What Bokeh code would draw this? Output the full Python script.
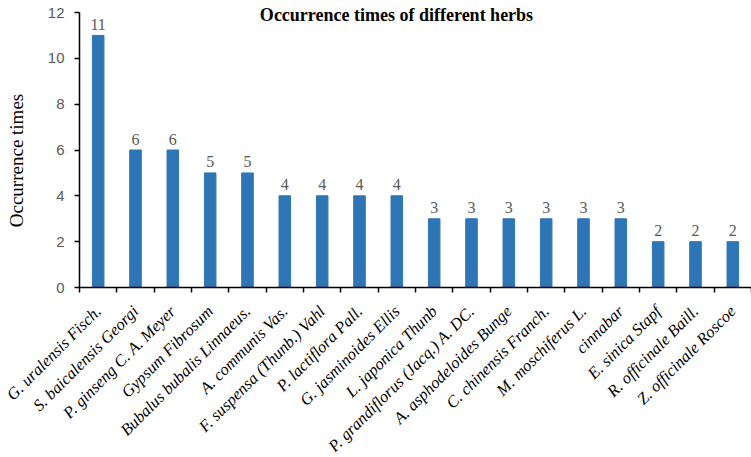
from bokeh.plotting import figure
from bokeh.models import Range1d, FixedTicker, ColumnDataSource, Label
from bokeh.core.properties import value
from bokeh.embed import file_html
from bokeh.resources import INLINE
import math

herbs = ["G. uralensis Fisch.", "S. baicalensis Georgi", "P. ginseng C. A. Meyer",
         "Gypsum Fibrosum", "Bubalus bubalis Linnaeus.", "A. communis Vas.",
         "F. suspensa (Thunb.) Vahl", "P. lactiflora Pall.", "G. jasminoides Ellis",
         "L. japonica Thunb", "P. grandiflorus (Jacq.) A. DC.", "A. asphodeloides Bunge",
         "C. chinensis Franch.", "M. moschiferus L.", "cinnabar", "E. sinica Stapf",
         "R. officinale Baill.", "Z. officinale Roscoe"]
counts = [11, 6, 6, 5, 5, 4, 4, 4, 4, 3, 3, 3, 3, 3, 3, 2, 2, 2]
y_ticks = [0, 2, 4, 6, 8, 10, 12]
y_max = 12

W, H = 751, 457
n = len(herbs)
xs = [i + 0.5 for i in range(n)]
src = ColumnDataSource(dict(x=xs, top=counts, lab=[str(c) for c in counts]))

# frame covers the whole canvas; axes are drawn at fixed locations
ax_left, ax_right, ax_top, ax_bottom = 79, 751, 12, 287   # pixel placement of the axes
xu = (ax_right - ax_left) / n
yu = (ax_bottom - ax_top) / y_max
x_range = Range1d(-ax_left / xu, n + (W - ax_right) / xu)
y_range = Range1d(-(H - ax_bottom) / yu, y_max + ax_top / yu)

p = figure(width=W, height=H, output_backend="svg", toolbar_location=None,
           x_range=x_range, y_range=y_range, min_border=0)
p.outline_line_color = None
p.xgrid.grid_line_color = None
p.ygrid.grid_line_color = None
p.background_fill_color = "white"

p.vbar(x="x", top="top", width=0.31, source=src, fill_color="#2E75B6", line_color="#2E75B6")
p.text(x="x", y="top", text="lab", source=src, text_align="center", text_baseline="alphabetic",
       y_offset=-11, text_font=value("Liberation Serif"), text_font_size="16px", text_color="#595959")

# x axis
p.xaxis.fixed_location = 0
p.xaxis.bounds = (0, n)
p.xaxis.ticker = FixedTicker(ticks=xs, minor_ticks=list(range(n + 1)))
p.xaxis.major_label_overrides = {x: h for x, h in zip(xs, herbs)}
p.xaxis.major_tick_out = 0
p.xaxis.major_tick_in = 0
p.xaxis.minor_tick_out = 5
p.xaxis.minor_tick_in = 0
p.xaxis.minor_tick_line_color = "black"
p.xaxis.minor_tick_line_width = 1.5
p.xaxis.axis_line_color = "black"
p.xaxis.axis_line_width = 1.5
p.xaxis.major_label_orientation = math.pi / 4
p.xaxis.major_label_text_font = "Liberation Serif"
p.xaxis.major_label_text_font_style = "italic"
p.xaxis.major_label_text_font_size = "16.5px"
p.xaxis.major_label_text_color = "black"
p.xaxis.major_label_standoff = 16

# y axis
p.yaxis.fixed_location = 0
p.yaxis.bounds = (0, y_max)
p.yaxis.ticker = FixedTicker(ticks=y_ticks)
p.yaxis.minor_tick_line_color = None
p.yaxis.major_tick_out = 5
p.yaxis.major_tick_in = 0
p.yaxis.major_tick_line_color = "black"
p.yaxis.major_tick_line_width = 1.5
p.yaxis.axis_line_color = "black"
p.yaxis.axis_line_width = 1.5
p.yaxis.major_label_text_font = "Liberation Sans"
p.yaxis.major_label_text_font_size = "15px"
p.yaxis.major_label_text_color = "#595959"
p.yaxis.major_label_standoff = 10

ylab = Label(x=-63 / xu, y=y_max - (160 - ax_top) / yu, text="Occurrence times", angle=math.pi / 2,
             text_align="center", text_baseline="middle", text_font="Liberation Serif",
             text_font_size="19px", text_color="black")
p.add_layout(ylab)

title = Label(x=(396 - ax_left) / xu, y=y_max - 2 / yu, text="Occurrence times of different herbs",
              text_align="center", text_baseline="alphabetic", text_font="Liberation Serif",
              text_font_style="bold", text_font_size="18px", text_color="black")
p.add_layout(title)

open("out.html", "w").write(file_html(p, INLINE))
